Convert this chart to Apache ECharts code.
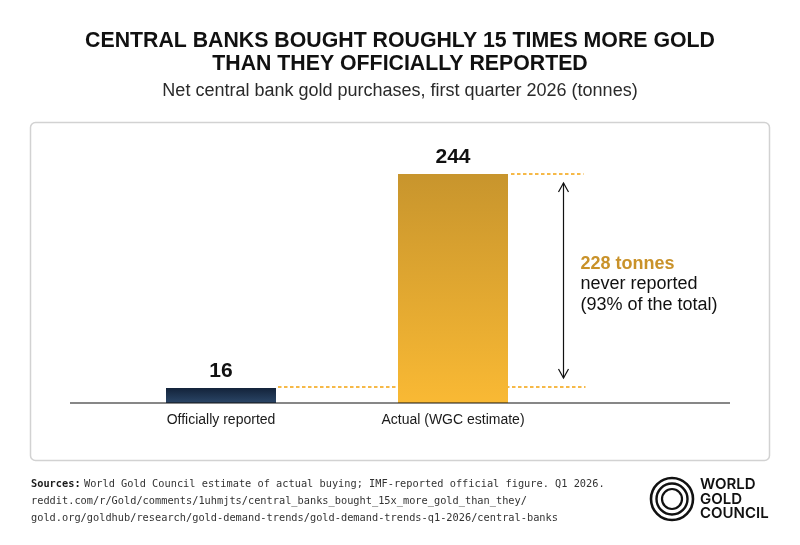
<!DOCTYPE html>
<html>
<head>
<meta charset="utf-8">
<script src="https://cdn.jsdelivr.net/npm/echarts@6/dist/echarts.min.js"></script>
<style>
html,body{margin:0;padding:0;background:#fff;}
#chart{width:800px;height:545px;}
</style>
</head>
<body>
<div id="chart"></div>
<script>
// ---- data ----
const categories = ['Officially reported', 'Actual (WGC estimate)'];
const values = [16, 244];
const unreported = 228;
const unreportedShare = '93%';
const titleLines = ['CENTRAL BANKS BOUGHT ROUGHLY 15 TIMES MORE GOLD', 'THAN THEY OFFICIALLY REPORTED'];
const subtitle = 'Net central bank gold purchases, first quarter 2026 (tonnes)';
const sourceLines = [
  'World Gold Council estimate of actual buying; IMF-reported official figure. Q1 2026.',
  'reddit.com/r/Gold/comments/1uhmjts/central_banks_bought_15x_more_gold_than_they/',
  'gold.org/goldhub/research/gold-demand-trends/gold-demand-trends-q1-2026/central-banks'
];

const FONT = '"Liberation Sans", Arial, Helvetica, sans-serif';
const MONO = '"DejaVu Sans Mono", "Liberation Mono", monospace';
const GOLD = '#c9922a';

const chart = echarts.init(document.getElementById('chart'), null, {renderer: 'canvas'});

const barColors = [
  new echarts.graphic.LinearGradient(0, 0, 0, 1, [{offset: 0, color: '#13233a'}, {offset: 1, color: '#2b4667'}]),
  new echarts.graphic.LinearGradient(0, 0, 0, 1, [{offset: 0, color: '#c8952d'}, {offset: 1, color: '#f9b934'}])
];

const BAR_W = 110;

chart.setOption({
  backgroundColor: '#fff',
  animation: false,
  grid: {left: 105, right: 231, top: 159, bottom: 142, containLabel: false},
  xAxis: {
    type: 'category',
    data: categories,
    axisLine: {show: false},
    axisTick: {show: false},
    axisLabel: {fontFamily: FONT, fontSize: 14, color: '#1a1a1a', margin: 10}
  },
  yAxis: {
    type: 'value', min: 0, max: 260,
    show: false,
    splitLine: {show: false}
  },
  series: [{
    type: 'bar',
    data: values.map((v, i) => ({value: v, itemStyle: {color: barColors[i]}})),
    barWidth: BAR_W,
    z: 3,
    label: {
      show: true, position: 'top', distance: 6,
      fontFamily: FONT, fontSize: 21, fontWeight: 'bold', color: '#111'
    }
  }]
});

function px(i, v) { return chart.convertToPixel({seriesIndex: 0}, [i, v]); }

const p0 = px(0, 0), p1 = px(1, 0);
const yBase = p0[1];
const yLow = Math.round(px(0, values[0])[1]) - 1;
const yHigh = Math.round(px(1, values[1])[1]);
const bar1Right = p0[0] + BAR_W / 2;
const bar2Right = p1[0] + BAR_W / 2;
const arrowX = Math.round(bar2Right + 55) + 0.5;
const aTop = yHigh + 9, aBot = yLow - 9;

const dashStyle = {stroke: '#f4a30c', lineWidth: 1.5, lineDash: [3.5, 2.5]};

chart.setOption({
  graphic: [
    // titles
    {type: 'text', x: 400, y: 41, z: 10,
      style: {text: titleLines[0], align: 'center', verticalAlign: 'middle', fontFamily: FONT, fontSize: 21.3, fontWeight: 'bold', fill: '#111'}},
    {type: 'text', x: 400, y: 64, z: 10,
      style: {text: titleLines[1], align: 'center', verticalAlign: 'middle', fontFamily: FONT, fontSize: 21.3, fontWeight: 'bold', fill: '#111'}},
    {type: 'text', x: 400, y: 91, z: 10,
      style: {text: subtitle, align: 'center', verticalAlign: 'middle', fontFamily: FONT, fontSize: 18, fill: '#2a2a2a'}},
    // card
    {type: 'rect', shape: {x: 30.5, y: 122.5, width: 739, height: 338, r: 5}, style: {fill: '#fff', stroke: '#d2d2d2', lineWidth: 1.5}, z: -10},
    // baseline
    {type: 'line', shape: {x1: 70, y1: yBase, x2: 730, y2: yBase}, style: {stroke: '#111', lineWidth: 1.2}, z: 10},
    // dashed reference lines
    {type: 'line', shape: {x1: bar1Right + 2, y1: yLow, x2: arrowX + 22, y2: yLow}, style: dashStyle, z: 1},
    {type: 'line', shape: {x1: bar2Right + 3, y1: yHigh, x2: arrowX + 20, y2: yHigh}, style: dashStyle, z: 1},
    // arrow
    {type: 'line', shape: {x1: arrowX, y1: aTop, x2: arrowX, y2: aBot}, style: {stroke: '#111', lineWidth: 1.2}, z: 10},
    {type: 'polyline', shape: {points: [[arrowX - 5, aTop + 9], [arrowX, aTop], [arrowX + 5, aTop + 9]]}, style: {stroke: '#111', lineWidth: 1.2, fill: null}, z: 10},
    {type: 'polyline', shape: {points: [[arrowX - 5, aBot - 9], [arrowX, aBot], [arrowX + 5, aBot - 9]]}, style: {stroke: '#111', lineWidth: 1.2, fill: null}, z: 10},
    // annotation
    {type: 'text', x: arrowX + 17, y: (aTop + aBot) / 2 + 4, z: 10,
      style: {
        text: '{g|' + unreported + ' tonnes}\n{n|never reported}\n{n|(' + unreportedShare + ' of the total)}',
        verticalAlign: 'middle', align: 'left',
        rich: {
          g: {fontFamily: FONT, fontSize: 18, fontWeight: 'bold', fill: GOLD, lineHeight: 20.5},
          n: {fontFamily: FONT, fontSize: 18, fill: '#111', lineHeight: 20.5}
        }
      }
    },
    // sources
    {type: 'text', x: 31, y: 476, z: 10,
      style: {
        text: '{b|Sources:} {t|' + sourceLines[0] + '}\n{t|' + sourceLines[1] + '}\n{t|' + sourceLines[2] + '}',
        align: 'left', verticalAlign: 'top',
        rich: {
          b: {fontFamily: MONO, fontSize: 10.3, fontWeight: 'bold', fill: '#1a1a1a', lineHeight: 17},
          t: {fontFamily: MONO, fontSize: 10.3, fill: '#333', lineHeight: 17}
        }
      }
    },
    // logo rings
    {type: 'circle', shape: {cx: 672, cy: 499, r: 21}, style: {fill: null, stroke: '#111', lineWidth: 2.6}, z: 10},
    {type: 'circle', shape: {cx: 672, cy: 499, r: 15.5}, style: {fill: null, stroke: '#111', lineWidth: 2.4}, z: 10},
    {type: 'circle', shape: {cx: 672, cy: 499, r: 10}, style: {fill: null, stroke: '#111', lineWidth: 2.2}, z: 10},
    {type: 'text', x: 700, y: 499, z: 10,
      style: {text: 'WORLD\nGOLD\nCOUNCIL', fontFamily: 'Inter, "Noto Sans", sans-serif', fontSize: 15, fontWeight: 600, fill: '#111', lineHeight: 14.5, align: 'left', verticalAlign: 'middle'}
    }
  ]
});
</script>
</body>
</html>
